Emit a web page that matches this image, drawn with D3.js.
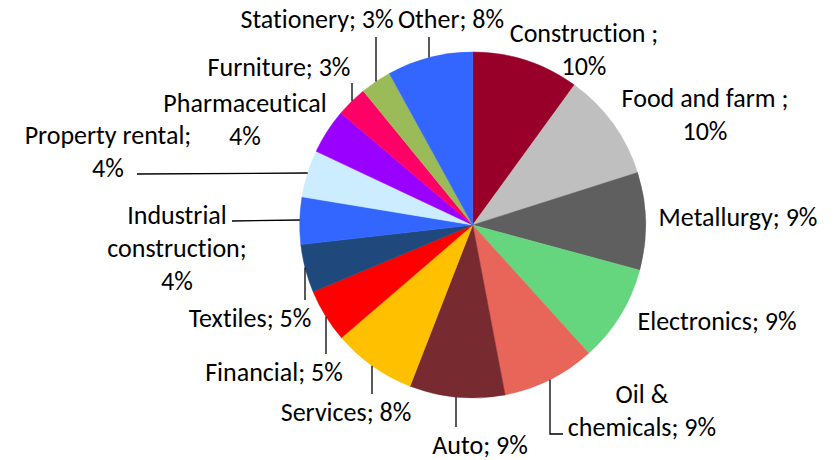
<!DOCTYPE html>
<html><head><meta charset="utf-8">
<script src="https://cdn.jsdelivr.net/npm/d3@7"></script>
<style>html,body{margin:0;padding:0;background:#fff;} svg{display:block;} text{font-variant-ligatures:none;font-feature-settings:"liga" 0;}</style>
</head><body>
<svg id="chart" width="834" height="460"></svg>
<script>
// ---- data ----
const categories = ["Construction","Food and farm","Metallurgy","Electronics","Oil & chemicals","Auto","Services","Financial","Textiles","Industrial construction","Property rental","Pharmaceutical","Furniture","Stationery","Other"];
const values = [10.0,10.1,9.1,9.1,8.7,8.9,7.8,5.0,4.5,4.4,4.4,4.2,2.9,2.9,8.0];
const labels = ["Construction ;\n10%","Food and farm ;\n10%","Metallurgy; 9%","Electronics; 9%","Oil &\nchemicals; 9%","Auto; 9%","Services; 8%","Financial; 5%","Textiles; 5%","Industrial\nconstruction;\n4%","Property rental;\n4%","Pharmaceutical\n4%","Furniture; 3%","Stationery; 3%","Other; 8%"];
const colors = ["#990029","#BFBFBF","#5F5F5F","#66D67E","#E8655A","#772A30","#FFC000","#FF0000","#1F497D","#3366FF","#CCECFF","#9900FF","#FF0066","#9BBB59","#3366FF"];

// ---- layout ----
const cx = 472.7, cy = 225, R = 173;
const lineH = 33;
const labelLayout = [
  {x:584, y:33},
  {x:705, y:98},
  {x:738, y:217},
  {x:717, y:321},
  {x:642, y:394, leader:{type:"elbow", x:550, y:434, x2:563}},
  {x:480, y:445, leader:{type:"v", x:456, y:427}},
  {x:346, y:412, leader:{type:"v", x:372, y:394}},
  {x:274, y:372, leader:{type:"v", x:326, y:354}},
  {x:250, y:318, leader:{type:"v", x:305, y:300}},
  {x:177, y:215, leader:{type:"h", x:232, y:221, yEnd:220}},
  {x:108, y:135, leader:{type:"h", x:137, y:174, yEnd:173}},
  {x:245, y:103, leader:{type:"v", x:352, y:83}},
  {x:279, y:67},
  {x:317, y:19, leader:{type:"v", x:376, y:37}},
  {x:451, y:19, leader:{type:"v", x:429, y:37}}
];

const svg = d3.select("#chart");
const g = svg.append("g").attr("transform", `translate(${cx},${cy})`);
const pie = d3.pie().sort(null).value(d => d.v).startAngle(0).endAngle(2*Math.PI);
const arc = d3.arc().innerRadius(0).outerRadius(R);
const data = categories.map((c,i)=>({c, v:values[i], color:colors[i]}));
g.selectAll("path").data(pie(data)).join("path")
  .attr("d", arc).attr("fill", d=>d.data.color)
  .attr("stroke", d=>d.data.color).attr("stroke-width",0.5);

// leaders
const edgeY = (x, dir) => cy + dir*Math.sqrt(R*R - (x-cx)*(x-cx));
const edgeX = (y) => cx - Math.sqrt(R*R - (y-cy)*(y-cy));
const lg = svg.append("g").attr("stroke","#000").attr("stroke-width",1.3).attr("fill","none");
labelLayout.forEach(L => {
  const d = L.leader; if (!d) return;
  let pts;
  if (d.type === "v") { const dir = d.y > cy ? 1 : -1; pts = [[d.x,d.y],[d.x,edgeY(d.x,dir)]]; }
  else if (d.type === "h") { pts = [[d.x,d.y],[edgeX(d.yEnd),d.yEnd]]; }
  else { pts = [[d.x,edgeY(d.x,1)],[d.x,d.y],[d.x2,d.y]]; }
  lg.append("path").attr("d", d3.line()(pts));
});

// labels
const fontFamily = "Carlito, Lato, 'Open Sans', sans-serif";
const tg = svg.append("g").attr("font-family", fontFamily).attr("fill","#000").attr("text-anchor","middle");
const probe = tg.append("text").attr("font-size",26).text("Metallurgy; 9%");
const w = probe.node().getComputedTextLength();
probe.remove();
const fs = Math.min(26, 26*160/w);
labels.forEach((t,i) => {
  const L = labelLayout[i];
  const txt = tg.append("text").attr("font-size", fs);
  t.split("\n").forEach((line,k) => {
    txt.append("tspan").attr("x", L.x).attr("y", L.y + k*lineH).attr("dy","0.35em").text(line);
  });
});
</script>
</body></html>
